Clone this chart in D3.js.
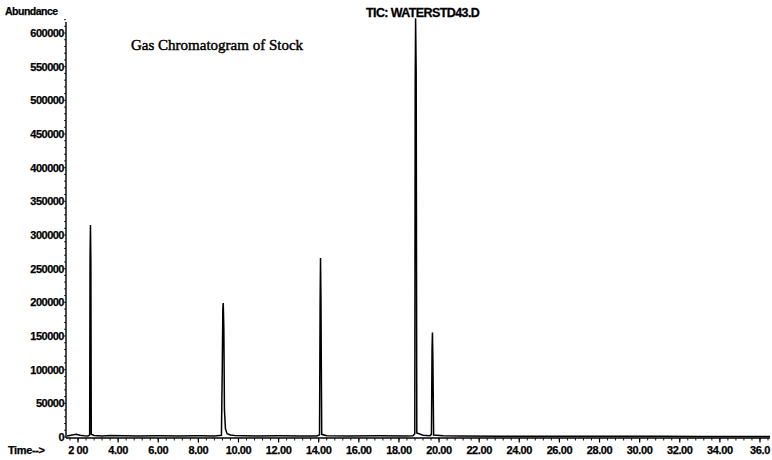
<!DOCTYPE html>
<html>
<head>
<meta charset="utf-8">
<script src="https://cdn.jsdelivr.net/npm/d3@7"></script>
<style>
  body { margin: 0; background: #fff; }
  svg text { fill: #000; }
</style>
</head>
<body>
<div id="chart"></div>
<script>
// retention time (min) and abundance
var traceTime = [1.45, 1.9, 2.1, 2.3, 2.5, 2.58, 2.60, 2.62, 2.64, 2.66, 2.8, 3.2, 3.6, 4.2, 5.0, 6.0, 7.0, 8.0, 8.8,
                 9.15, 9.19, 9.22, 9.24, 9.27, 9.30, 9.35, 9.43, 9.6, 9.8, 10.2, 11.0, 12.0, 13.0, 13.9,
                 14.04, 14.07, 14.09, 14.11, 14.15, 14.4, 15.5, 17.0, 18.3, 18.7,
                 18.79, 18.81, 18.83, 18.86, 18.89, 19.2, 19.55,
                 19.62, 19.65, 19.67, 19.69, 19.73, 20.2, 21.0, 23.0, 25.0, 27.0, 29.0, 31.0, 33.0, 35.0, 36.5];
var traceAbundance = [1500, 4000, 2500, 1800, 1600, 3000, 270000, 315000, 260000, 4000, 2200, 1500, 2200, 1800, 1500, 1700, 1500, 1800, 1600,
                      2500, 100000, 190000, 199000, 160000, 40000, 12000, 5000, 3000, 2200, 1800, 1500, 1700, 1500, 1600,
                      3000, 200000, 266000, 210000, 4000, 2000, 1600, 1800, 1600, 2000,
                      5000, 520000, 622000, 540000, 6000, 2500, 2000,
                      4000, 130000, 155000, 120000, 3000, 1800, 1500, 1300, 1200, 1100, 1000, 1000, 900, 900, 900];

var yTicks = [0, 50000, 100000, 150000, 200000, 250000, 300000, 350000, 400000, 450000, 500000, 550000, 600000];
var xTicks = [2, 4, 6, 8, 10, 12, 14, 16, 18, 20, 22, 24, 26, 28, 30, 32, 34, 36];
var xTickLabels = ["2 00", "4.00", "6.00", "8.00", "10.00", "12.00", "14.00", "16.00", "18.00", "20.00",
                   "22.00", "24.00", "26.00", "28.00", "30.00", "32.00", "34.00", "36.0"];

var chartTitle = "Gas Chromatogram of Stock";
var fileTitle = "TIC: WATERSTD43.D";

function render(el, width, height) {
    var margin = { top: 20, right: 2, bottom: 22, left: 66 };

    var svg = d3.select(el).append("svg")
        .attr("width", width)
        .attr("height", height);

    var x = d3.scaleLinear().domain([1.4, 36.5]).range([margin.left, 770]);
    var y = d3.scaleLinear().domain([0, 600000]).range([height - margin.bottom - 1, 33]);

    var sans = "'Liberation Sans', Arial, sans-serif";

    // y axis line + ticks
    svg.append("line")
        .attr("x1", margin.left).attr("x2", margin.left)
        .attr("y1", 22).attr("y2", y(0) + 1)
        .attr("stroke", "#000").attr("stroke-width", 1.4);

    var yMinor = d3.range(0, 620001, 10000);
    svg.selectAll(".ymin").data(yMinor).enter().append("line")
        .attr("x1", margin.left - 2).attr("x2", margin.left)
        .attr("y1", d => y(d)).attr("y2", d => y(d))
        .attr("stroke", "#000").attr("stroke-width", 0.8);

    svg.selectAll(".ytick").data(yTicks).enter().append("text")
        .attr("x", margin.left - 2)
        .attr("y", d => y(d) + 4)
        .attr("text-anchor", "end")
        .style("font", "bold 11px " + sans)
        .style("letter-spacing", "-0.5px")
        .style("stroke", "#000").style("stroke-width", "0.25px")
        .text(d => d);

    // x axis line + ticks
    var x0 = y(0) + 1;
    svg.append("line")
        .attr("x1", margin.left).attr("x2", width - 2)
        .attr("y1", x0).attr("y2", x0)
        .attr("stroke", "#000").attr("stroke-width", 1.4);

    var xMinor = d3.range(1.6, 36.5, 0.4);
    svg.selectAll(".xmin").data(xMinor).enter().append("line")
        .attr("x1", d => x(d)).attr("x2", d => x(d))
        .attr("y1", x0).attr("y2", x0 + 2.5)
        .attr("stroke", "#000").attr("stroke-width", 0.9);

    svg.selectAll(".xmaj").data(xTicks).enter().append("line")
        .attr("x1", d => x(d)).attr("x2", d => x(d))
        .attr("y1", x0).attr("y2", x0 + 4.5)
        .attr("stroke", "#000").attr("stroke-width", 1.2);

    svg.selectAll(".xlab").data(xTicks).enter().append("text")
        .attr("x", d => x(d))
        .attr("y", height - 6)
        .attr("text-anchor", "middle")
        .style("font", "bold 11px " + sans)
        .style("letter-spacing", "-0.4px")
        .style("stroke", "#000").style("stroke-width", "0.25px")
        .text((d, i) => xTickLabels[i]);

    // labels
    svg.append("text")
        .attr("x", 5).attr("y", 15)
        .style("font", "bold 10.5px " + sans)
        .style("letter-spacing", "-0.5px")
        .style("stroke", "#000").style("stroke-width", "0.25px")
        .text("Abundance");

    svg.append("text")
        .attr("x", 8).attr("y", height - 6)
        .style("font", "bold 11px " + sans)
        .style("letter-spacing", "-0.4px")
        .style("stroke", "#000").style("stroke-width", "0.25px")
        .text("Time-->");

    svg.append("text")
        .attr("x", 366).attr("y", 17)
        .style("font", "bold 12.5px " + sans)
        .style("letter-spacing", "-0.6px")
        .style("stroke", "#000").style("stroke-width", "0.3px")
        .text(fileTitle);

    svg.append("text")
        .attr("x", 131).attr("y", 50)
        .style("font", "15px 'Liberation Serif', 'Times New Roman', serif")
        .style("stroke", "#000").style("stroke-width", "0.45px")
        .text(chartTitle);

    // trace
    var line = d3.line()
        .x((d, i) => x(traceTime[i]))
        .y(d => y(d));

    svg.append("path")
        .datum(traceAbundance)
        .attr("d", line)
        .attr("fill", "none")
        .attr("stroke", "#000")
        .attr("stroke-width", 1.5)
        .attr("stroke-linejoin", "miter");

    return svg.node();
}

render(document.getElementById("chart"), 772, 460);
</script>
</body>
</html>
